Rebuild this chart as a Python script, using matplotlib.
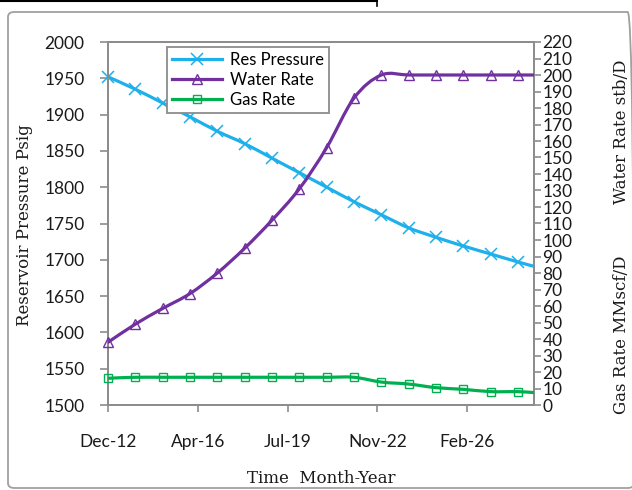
import matplotlib
matplotlib.use("Agg")
import matplotlib.pyplot as plt
import matplotlib.dates as mdates
from matplotlib.path import Path
from matplotlib.patches import PathPatch, FancyBboxPatch
from matplotlib.lines import Line2D
import numpy as np
import datetime as dt

# ---------------- data ----------------
dates = ["2012-12-31", "2013-12-31", "2014-12-31", "2015-12-31", "2016-12-31",
         "2017-12-31", "2018-12-31", "2019-12-31", "2020-12-31", "2021-12-31",
         "2022-12-31", "2023-12-31", "2024-12-31", "2025-12-31", "2026-12-31",
         "2027-12-31", "2028-08-01"]
res_pressure = [1952, 1935, 1916, 1897, 1877, 1860, 1840, 1820, 1800, 1780,
                1762, 1744, 1731, 1719, 1708, 1697, 1691]
water_rate = [38, 49, 58.5, 67.5, 80, 95, 112, 131, 156, 186,
              200, 200, 200, 200, 200, 200, 200]
gas_rate = [16.2, 16.8, 16.8, 16.8, 16.8, 16.8, 16.8, 16.8, 16.8, 16.8,
            13.9, 12.7, 10.5, 9.5, 8.1, 8.1, 7.5]
tick_step_days = 1200
tick_count = 5

series_names = ["Res Pressure", "Water Rate", "Gas Rate"]
c_press = "#1EB0EA"
c_water = "#7030A0"
c_gas = "#00B050"

x = mdates.date2num([dt.datetime.strptime(d, "%Y-%m-%d") for d in dates])
marker_idx = list(range(len(x) - 1))

# ---------------- figure ----------------
fig = plt.figure(figsize=(6.32, 4.90), dpi=100)
W, H = 632, 490
ax = fig.add_axes([108 / W, 1 - 405 / H, (534 - 108) / W, (405 - 42) / H])
ax2 = ax.twinx()

tick_font = dict(family=["Lato", "DejaVu Sans"], size=12.5, color="#1a1a1a")
title_font = dict(family=["DejaVu Serif"], size=12, color="#1a1a1a")

PRESS_MS, WATER_MS, GAS_MS = 8, 7, 5.5


def smooth_path(xs, ys):
    pts = np.column_stack([xs, ys])
    n = len(pts)
    verts = [pts[0]]
    codes = [Path.MOVETO]
    for i in range(n - 1):
        p0 = pts[i - 1] if i > 0 else pts[i]
        p1 = pts[i]
        p2 = pts[i + 1]
        p3 = pts[i + 2] if i + 2 < n else pts[i + 1]
        c1 = p1 + (p2 - p0) / 6.0
        c2 = p2 - (p3 - p1) / 6.0
        verts += [c1, c2, p2]
        codes += [Path.CURVE4] * 3
    return Path(verts, codes)


def draw_series(a, ys, color, marker, ms, mew, z):
    patch = PathPatch(smooth_path(x, np.asarray(ys, float)), facecolor="none",
                      edgecolor=color, lw=2.3, zorder=z, capstyle="round",
                      joinstyle="round")
    a.add_patch(patch)
    a.plot(x, ys, linestyle="none", marker=marker, markersize=ms,
           markerfacecolor="none", markeredgecolor=color, markeredgewidth=mew,
           markevery=marker_idx, zorder=z + 0.1, clip_on=False)


draw_series(ax, res_pressure, c_press, "x", PRESS_MS, 1.1, 3)
draw_series(ax2, water_rate, c_water, "^", WATER_MS, 1.0, 3)
draw_series(ax2, gas_rate, c_gas, "s", GAS_MS, 1.0, 3)

# axes limits / ticks
x0 = x[0]
ax.set_xlim(x0, x[-1])
ticks = [x0 + k * tick_step_days for k in range(tick_count)]
ax.set_xticks(ticks)
ax.set_xticklabels([mdates.num2date(t).strftime("%b-%y") for t in ticks], **tick_font)
ax.set_ylim(1500, 2000)
ax.set_yticks(np.arange(1500, 2001, 50))
ax.set_yticklabels([str(v) for v in range(1500, 2001, 50)], **tick_font)
ax2.set_ylim(0, 220)
ax2.set_yticks(np.arange(0, 221, 10))
ax2.set_yticklabels([str(v) for v in range(0, 221, 10)], **tick_font)

spine_c = "#8C8C8C"
for a in (ax, ax2):
    for s in a.spines.values():
        s.set_color(spine_c)
        s.set_linewidth(1.3)
ax.tick_params(axis="x", direction="out", length=5, width=1.2, color=spine_c, pad=16)
ax.tick_params(axis="y", direction="out", length=6, width=1.2, color=spine_c, pad=11)
ax2.tick_params(axis="y", direction="out", length=5, width=1.2, color=spine_c, pad=1)

# axis titles
fig.text(25 / W, 1 - 225 / H, "Reservoir Pressure Psig", rotation=90,
         ha="center", va="center", **title_font)
fig.text(321 / W, 1 - 478 / H, "Time  Month-Year", ha="center", va="center",
         **title_font)
fig.text(621 / W, 1 - 132 / H, "Water Rate stb/D", rotation=90,
         ha="center", va="center", **title_font)
fig.text(621 / W, 1 - 335 / H, "Gas Rate MMscf/D", rotation=90,
         ha="center", va="center", **title_font)

# legend
handles = [
    Line2D([], [], color=c_press, lw=2.3, marker="x", markersize=PRESS_MS, markeredgewidth=1.1),
    Line2D([], [], color=c_water, lw=2.3, marker="^", markersize=WATER_MS,
           markerfacecolor="none", markeredgewidth=1.0),
    Line2D([], [], color=c_gas, lw=2.3, marker="s", markersize=GAS_MS,
           markerfacecolor="none", markeredgewidth=1.0),
]
leg = ax2.legend(handles, series_names, loc="upper left",
                 bbox_to_anchor=((167 - 108) / (534 - 108), 1 - 5 / 363),
                 frameon=True, fancybox=False, edgecolor=spine_c, framealpha=1,
                 prop=dict(family=["Lato", "DejaVu Sans"], size=12),
                 handlelength=3.0, handletextpad=0.5, labelspacing=0.25,
                 borderpad=0.3, borderaxespad=0, numpoints=1)
leg.get_frame().set_linewidth(1.3)
leg.set_zorder(10)

# outer decorations
fig.patches.append(FancyBboxPatch((8 / W, 2 / H), (W - 6) / W, (H - 14) / H,
                                  boxstyle="round,pad=0,rounding_size=0.01",
                                  transform=fig.transFigure, facecolor="none",
                                  edgecolor="#A0A0A0", lw=1.3, clip_on=False))
fig.lines.append(Line2D([0, 377 / W], [1 - 1 / H, 1 - 1 / H], transform=fig.transFigure,
                        color="black", lw=1.5))
fig.lines.append(Line2D([377 / W, 377 / W], [1 - 1 / H, 1 - 6 / H], transform=fig.transFigure,
                        color="black", lw=1.2))

fig.savefig("out.png", dpi=100)
